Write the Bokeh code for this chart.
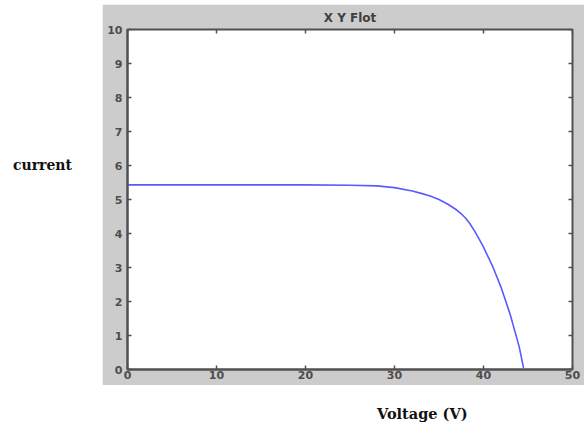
import math
from bokeh.plotting import figure
from bokeh.models import Div, FixedTicker, Range1d
from bokeh.layouts import row, column
from bokeh.embed import file_html
from bokeh.resources import INLINE

# Data (I-V curve)
voltage = [0, 10, 20, 25, 28, 30, 32, 33, 34, 35, 36, 37, 37.5, 38, 38.5, 39, 39.5, 40,
           41, 42, 43, 44, 44.5]
current = [5.43, 5.43, 5.43, 5.42, 5.40, 5.35, 5.25, 5.18, 5.10, 5.00, 4.86, 4.69, 4.58,
           4.45, 4.28, 4.07, 3.84, 3.60, 3.05, 2.40, 1.62, 0.68, 0.05]
x_ticks = [0, 10, 20, 30, 40, 50]
y_ticks = [0, 1, 2, 3, 4, 5, 6, 7, 8, 9, 10]
title_text = "X Y Flot"
x_label = "Voltage (V)"
y_label = "current"

GRAY = "#cccccc"
FRAME = "#505050"
TICKTXT = "#4d4d4d"

x_min, x_max = x_ticks[0], x_ticks[-1]
y_min, y_max = y_ticks[0], y_ticks[-1]

p = figure(width=482, height=381, output_backend="svg", toolbar_location=None,
           x_range=Range1d(x_min, x_max), y_range=Range1d(y_min, y_max),
           min_border_left=25, min_border_right=12, min_border_top=25, min_border_bottom=16,
           margin=(4, 0, 0, 0))
p.background_fill_color = "white"
p.border_fill_color = GRAY
p.outline_line_color = FRAME
p.outline_line_width = 2
p.grid.visible = False

p.title.text = title_text
p.title.align = "center"
p.title.text_font = "DejaVu Sans"
p.title.text_font_size = "12px"
p.title.text_font_style = "bold"
p.title.text_color = "#404040"
p.title.standoff = 9

p.line(voltage, current, line_color="#5a5aff", line_width=1.6)

for ax, ticks, standoff in ((p.xaxis[0], x_ticks, 1), (p.yaxis[0], y_ticks, 5)):
    ax.ticker = FixedTicker(ticks=ticks)
    ax.axis_line_color = FRAME
    ax.axis_line_width = 2
    ax.major_tick_in = 4
    ax.major_tick_out = 0
    ax.major_tick_line_color = FRAME
    ax.major_tick_line_width = 1.5
    ax.minor_tick_line_color = None
    ax.major_label_text_font = "DejaVu Sans"
    ax.major_label_text_font_style = "bold"
    ax.major_label_text_color = TICKTXT
    ax.major_label_text_font_size = "11px"
    ax.major_label_standoff = standoff

# inward ticks on the top and right frame edges (as in the reference)
p.scatter(x=x_ticks, y=[y_max] * len(x_ticks), marker="dash", size=8,
          angle=math.pi / 2, line_color=FRAME, line_width=1.5)
p.scatter(x=[x_max] * len(y_ticks), y=y_ticks, marker="dash", size=8,
          line_color=FRAME, line_width=1.5)

left_div = Div(text=f'<div style="font-family:\'DejaVu Serif\';font-weight:bold;font-size:14px;'
                    f'color:#111;padding-top:155px;padding-left:13px;">{y_label}</div>',
               width=102, height=385, margin=0)
bottom_div = Div(text=f'<div style="font-family:\'DejaVu Serif\';font-weight:bold;font-size:14.5px;'
                      f'color:#111;padding-top:19px;padding-left:275px;white-space:nowrap;">{x_label}</div>',
                 width=482, height=36, margin=0)

layout = row(left_div, column(p, bottom_div, spacing=0, margin=0), spacing=0, margin=0)

open("out.html", "w").write(file_html(layout, INLINE))
